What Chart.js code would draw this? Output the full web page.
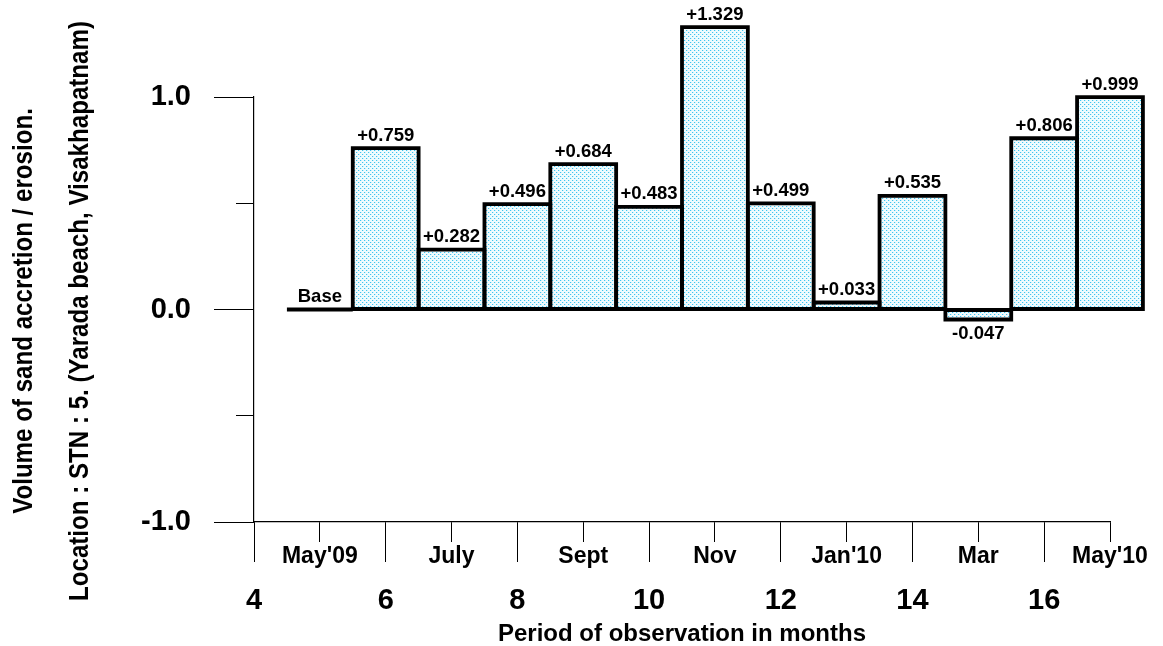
<!DOCTYPE html>
<html><head><meta charset="utf-8">
<script src="https://cdn.jsdelivr.net/npm/chart.js@4"></script>
<style>html,body{margin:0;padding:0;background:#fff}canvas{display:block}</style>
</head><body>
<canvas id="c" width="1163" height="646"></canvas>
<script>
// ---- data ----
const periods = [5, 6, 7, 8, 9, 10, 11, 12, 13, 14, 15, 16, 17];
const volumes = [0, 0.759, 0.282, 0.496, 0.684, 0.483, 1.329, 0.499, 0.033, 0.535, -0.047, 0.806, 0.999];
const monthTickValues = [5, 7, 9, 11, 13, 15, 17];
const monthTickLabels = ["May'09", "July", "Sept", "Nov", "Jan'10", "Mar", "May'10"];
const monthNumberTicks = [4, 6, 8, 10, 12, 14, 16];
const yMajorTicks = [-1, 0, 1];
const yMinorTicks = [-1, -0.5, 0, 0.5, 1];
const xTitle = 'Period of observation in months';
const yTitleLines = ['Volume of sand accretion / erosion.', 'Location : STN : 5. (Yarada beach, Visakhapatnam)'];
const baseLabel = 'Base';

const FONT = "'Liberation Sans', Arial, Helvetica, sans-serif";
Chart.defaults.color = '#000';
Chart.defaults.font.family = FONT;

const canvas = document.getElementById('c');
const ctx = canvas.getContext('2d');

function makePattern() {
  const c = document.createElement('canvas'); c.width = 4; c.height = 4;
  const g = c.getContext('2d');
  g.fillStyle = '#f0fbfe'; g.fillRect(0, 0, 4, 4);
  g.fillStyle = '#3fc5ef'; g.fillRect(0, 0, 1, 1); g.fillRect(2, 2, 1, 1);
  g.fillStyle = '#c8f0fb'; g.fillRect(1, 0, 1, 1); g.fillRect(3, 2, 1, 1);
  return ctx.createPattern(c, 'repeat');
}

const allXTicks = monthNumberTicks.concat(monthTickValues).sort((a, b) => a - b);

const outlinePlugin = {
  id: 'outline',
  afterDatasetsDraw(chart) {
    const c = chart.ctx;
    const meta = chart.getDatasetMeta(0);
    c.save();
    c.strokeStyle = '#000'; c.lineWidth = 3.8; c.lineJoin = 'miter';
    meta.data.forEach((el) => {
      const {x, y, base, width} = el.getProps(['x', 'y', 'base', 'width'], true);
      const l = x - width / 2, r = x + width / 2;
      c.beginPath();
      if (Math.abs(base - y) < 0.5) { c.moveTo(l, y); c.lineTo(r, y); }
      else { c.rect(l, Math.min(y, base), width, Math.abs(base - y)); }
      c.stroke();
    });
    c.fillStyle = '#000';
    c.font = 'bold 18.5px ' + FONT;
    c.textAlign = 'center'; c.textBaseline = 'alphabetic';
    meta.data.forEach((el, i) => {
      const v = volumes[i];
      const {x, y} = el.getProps(['x', 'y'], true);
      const txt = v > 0 ? '+' + v.toFixed(3) : (v < 0 ? v.toFixed(3) : baseLabel);
      if (v < 0) c.fillText(txt, x, y + 19.5);
      else c.fillText(txt, x, y - 7.5);
    });
    c.restore();
  }
};

const yTitlePlugin = {
  id: 'ytitles',
  afterDraw(chart) {
    const c = chart.ctx;
    const centerY = 311;
    const baselines = [32, 88];
    c.save();
    c.fillStyle = '#000';
    c.font = 'bold 28px ' + FONT;
    const k = 580 / c.measureText(yTitleLines[1]).width;
    yTitleLines.forEach((t, i) => {
      c.save();
      c.translate(baselines[i], centerY);
      c.rotate(-Math.PI / 2);
      c.scale(k, 1);
      c.textAlign = 'center'; c.textBaseline = 'alphabetic';
      c.fillText(t, 0, 0);
      c.restore();
    });
    c.restore();
  }
};

const isMonthTick = v => monthTickValues.indexOf(v) >= 0;

new Chart(ctx, {
  type: 'bar',
  data: {
    datasets: [{
      data: periods.map((p, i) => ({x: p, y: volumes[i]})),
      backgroundColor: makePattern(),
      borderWidth: 0,
      barPercentage: 1,
      categoryPercentage: 1,
      clip: false
    }]
  },
  options: {
    responsive: false, animation: false, events: [],
    layout: {padding: {top: 97, right: 53, bottom: 0, left: 0}},
    plugins: {legend: {display: false}, tooltip: {enabled: false}, title: {display: false}},
    scales: {
      x: {
        type: 'linear', position: 'bottom', min: 4, max: 17, offset: false, weight: 0,
        afterBuildTicks: s => { s.ticks = allXTicks.map(v => ({value: v})); },
        ticks: {display: false},
        grid: {display: true, drawOnChartArea: false, drawTicks: true, tickLength: 20, offset: false, color: '#000', lineWidth: 1},
        border: {display: true, color: '#000', width: 1.2},
        afterFit: s => { s.height = 20; }
      },
      x2: {
        type: 'linear', position: 'bottom', min: 4, max: 17, offset: false, weight: 1,
        afterBuildTicks: s => { s.ticks = allXTicks.map(v => ({value: v})); },
        ticks: {
          autoSkip: false, maxRotation: 0, padding: -19,
          font: c => isMonthTick(c.tick && c.tick.value)
            ? {size: 23, weight: 'bold', lineHeight: 28 / 23}
            : {size: 29, weight: 'bold', lineHeight: 38.67 / 29},
          callback: v => isMonthTick(v) ? monthTickLabels[monthTickValues.indexOf(v)] : ['', String(v)]
        },
        grid: {display: true, drawOnChartArea: false, tickLength: 20, offset: false, lineWidth: 1,
          tickColor: c => isMonthTick(c.tick && c.tick.value) ? 'rgba(0,0,0,0)' : '#000'},
        border: {display: false},
        title: {display: true, text: xTitle, font: {size: 24, weight: 'bold', lineHeight: 1}, padding: {top: 0, bottom: 0}},
        afterFit: s => { s.height = 104; }
      },
      y: {
        type: 'linear', position: 'left', min: -1, max: 1, weight: 0,
        afterBuildTicks: s => { s.ticks = yMinorTicks.map(v => ({value: v})); },
        ticks: {display: false},
        grid: {drawOnChartArea: false, tickLength: 18, color: '#000', lineWidth: 1},
        border: {display: true, color: '#000', width: 1.2},
        afterFit: s => { s.width = 18; }
      },
      y2: {
        type: 'linear', position: 'left', min: -1, max: 1, weight: 1,
        afterBuildTicks: s => { s.ticks = yMajorTicks.map(v => ({value: v})); },
        ticks: {padding: 23, font: {size: 29, weight: 'bold', lineHeight: 1}, callback: v => v.toFixed(1)},
        grid: {drawOnChartArea: false, tickLength: 22, color: '#000', lineWidth: 1},
        border: {display: false},
        afterFit: s => { s.width = 236; }
      }
    }
  },
  plugins: [outlinePlugin, yTitlePlugin]
});
</script>
</body></html>
